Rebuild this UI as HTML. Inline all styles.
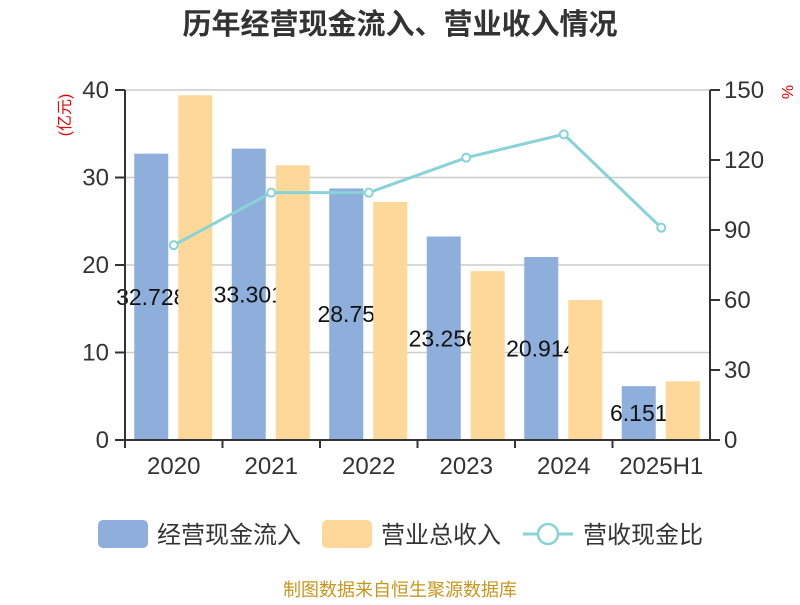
<!DOCTYPE html>
<html><head><meta charset="utf-8"><style>
body{margin:0;background:#fff;}
svg text{font-family:"Liberation Sans","Noto Sans CJK SC",sans-serif;}
</style></head><body>
<svg width="800" height="600" xmlns="http://www.w3.org/2000/svg">
<text x="400" y="34" text-anchor="middle" font-size="29" font-weight="bold" fill="#333">历年经营现金流入、营业收入情况</text>
<text transform="translate(70,115) rotate(-90)" text-anchor="middle" font-size="16" fill="#e00">(亿元)</text>
<text transform="translate(782,92) rotate(90)" text-anchor="middle" font-size="16" fill="#e00">%</text>
<g id="grid"></g><g id="bars"></g><g id="labels"></g><g id="axes"></g><g id="line"></g>
<g>
<rect x="98" y="520" width="50" height="28" rx="5" fill="#8eaedb"/>
<text x="157" y="543" font-size="24" fill="#333">经营现金流入</text>
<rect x="322" y="520" width="50" height="28" rx="5" fill="#fed898"/>
<text x="381" y="543" font-size="24" fill="#333">营业总收入</text>
<line x1="523" y1="534" x2="573" y2="534" stroke="#88d3d8" stroke-width="3"/>
<circle cx="548" cy="534" r="10" fill="#fff" stroke="#88d3d8" stroke-width="2.5"/>
<text x="583" y="543" font-size="24" fill="#333">营收现金比</text>
</g>
<text x="400" y="596" text-anchor="middle" font-size="18" fill="#c8961e">制图数据来自恒生聚源数据库</text>
</svg>
<script>
const categories=["2020","2021","2022","2023","2024","2025H1"];
const cashInflow=[32.728,33.301,28.75,23.256,20.914,6.151];
const revenue=[39.4,31.4,27.2,19.3,16.0,6.7];
const ratio=[83.5,106,106,121,131,91];
const leftTicks=[0,10,20,30,40];
const rightTicks=[0,30,60,90,120,150];
const NS="http://www.w3.org/2000/svg";
const X0=125,X1=710,Y0=440,Y1=90;
const bw=(X1-X0)/categories.length;
const yL=v=>Y0-(v/40)*(Y0-Y1);
const yR=v=>Y0-(v/150)*(Y0-Y1);
const xc=i=>X0+bw*(i+0.5);
function mk(t,a,p){const e=document.createElementNS(NS,t);for(const k in a)e.setAttribute(k,a[k]);p.appendChild(e);return e;}
const G=document.getElementById('grid'),B=document.getElementById('bars'),A=document.getElementById('axes'),LN=document.getElementById('line');
leftTicks.forEach(v=>{
 const y=yL(v);
 if(v>0){const g=mk('line',{x1:X0,x2:X1,y1:y,y2:y,stroke:'#ccc','stroke-width':1.5},G);
 
 }
 mk('line',{x1:X0-10,x2:X0,y1:y,y2:y,stroke:'#333','stroke-width':2},A);
 const t=mk('text',{x:X0-16,y:y+8,'text-anchor':'end','font-size':24,fill:'#333'},A);t.textContent=v;
 
 
});
rightTicks.forEach(v=>{
 const y=yR(v);
 mk('line',{x1:X1,x2:X1+10,y1:y,y2:y,stroke:'#333','stroke-width':2},A);
 const t=mk('text',{x:X1+14,y:y+8,'font-size':24,fill:'#333'},A);t.textContent=v;
 
 
});
mk('line',{x1:X0,x2:X0,y1:Y1,y2:Y0,stroke:'#333','stroke-width':2},A);
mk('line',{x1:X1,x2:X1,y1:Y1,y2:Y0,stroke:'#333','stroke-width':2},A);
mk('line',{x1:X0,x2:X1,y1:Y0,y2:Y0,stroke:'#333','stroke-width':2},A);
categories.forEach((c,i)=>{
 mk('line',{x1:X0+bw*i,x2:X0+bw*i,y1:Y0,y2:Y0+8,stroke:'#333','stroke-width':2},A);
 const t=mk('text',{x:xc(i),y:Y0+34,'text-anchor':'middle','font-size':24,fill:'#333'},A);t.textContent=c;
 
 
 const b1=mk('rect',{x:xc(i)-39.5,y:yL(cashInflow[i]),width:34,height:Y0-yL(cashInflow[i]),fill:'#8eaedb'},B);
 
 
 const lb=mk('text',{x:xc(i)-22.5,y:(yL(cashInflow[i])+Y0)/2+8,'text-anchor':'middle','font-size':23,fill:'#111'},B);lb.textContent=cashInflow[i];
 
 
});
categories.forEach((c,i)=>{
 const b2=mk('rect',{x:xc(i)+4.5,y:yL(revenue[i]),width:34,height:Y0-yL(revenue[i]),fill:'#fed898'},B);
 
 
});
const pl=mk('polyline',{points:ratio.map((v,i)=>xc(i)+','+yR(v)).join(' '),fill:'none',stroke:'#88d3d8','stroke-width':3},LN);


ratio.forEach((v,i)=>{
 const p=mk('circle',{cx:xc(i),cy:yR(v),r:4,fill:'#fff',stroke:'#88d3d8','stroke-width':2},LN);
 
 
});
</script>
</body></html>
